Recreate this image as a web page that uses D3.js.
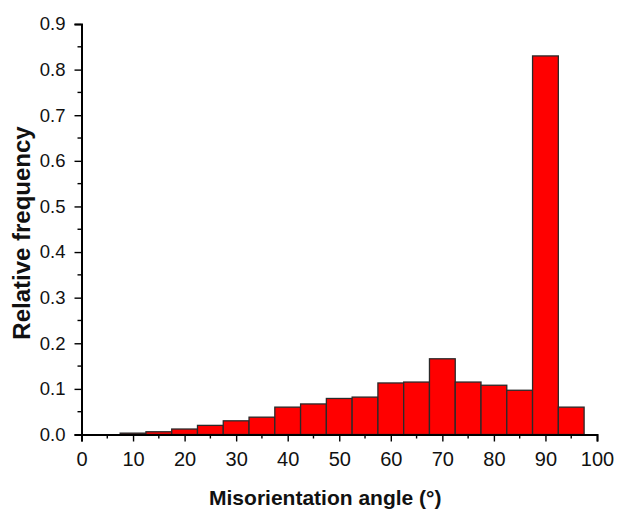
<!DOCTYPE html>
<html><head><meta charset="utf-8">
<script src="https://cdn.jsdelivr.net/npm/d3@7"></script>
<style>body{margin:0;background:#fff;} svg{display:block;}</style>
</head><body>
<svg id="c" width="618" height="515"></svg>
<script>
const binCenters = [10,15,20,25,30,35,40,45,50,55,60,65,70,75,80,85,90,95];
const frequencies = [0.003,0.006,0.012,0.020,0.030,0.038,0.060,0.067,0.079,0.082,0.113,0.115,0.166,0.115,0.108,0.097,0.830,0.060];
const xTicks = [0,10,20,30,40,50,60,70,80,90,100];
const yTicks = [0,0.1,0.2,0.3,0.4,0.5,0.6,0.7,0.8,0.9];
const binWidth = 5;

const svg = d3.select("#c");
const x = d3.scaleLinear().domain([0,100]).range([81.5,597]);
const y = d3.scaleLinear().domain([0,0.9]).range([434.5,24]);
const font = "'Liberation Sans', Arial, sans-serif";

svg.append("g").selectAll("rect").data(binCenters).join("rect")
  .attr("x", (d)=>x(d-binWidth/2))
  .attr("width", (d)=>x(d+binWidth/2)-x(d-binWidth/2))
  .attr("y", (d,i)=>y(frequencies[i]))
  .attr("height", (d,i)=>y(0)-y(frequencies[i]))
  .attr("fill","#ff0000").attr("stroke","#2a2a2a").attr("stroke-width",1.3);

const xMinor = d3.range(5,100,10);
const yMinor = d3.range(0.05,0.9,0.1);
const gx = svg.append("g").attr("transform",`translate(0,${y(0)})`);
gx.call(d3.axisBottom(x).tickValues(xTicks).tickFormat(d3.format("d")).tickSizeOuter(0).tickSize(7).tickPadding(10));
gx.selectAll("line.minor").data(xMinor).join("line").attr("class","minor").attr("x1",d=>x(d)).attr("x2",d=>x(d)).attr("y1",0).attr("y2",4).attr("stroke","#000").attr("stroke-width",1.4);
const gy = svg.append("g").attr("transform",`translate(${x(0)},0)`);
gy.call(d3.axisLeft(y).tickValues(yTicks).tickFormat(d3.format(".1f")).tickSizeOuter(0).tickSize(7).tickPadding(9));
gy.selectAll("line.minor").data(yMinor).join("line").attr("class","minor").attr("y1",d=>y(d)).attr("y2",d=>y(d)).attr("x1",0).attr("x2",-4).attr("stroke","#000").attr("stroke-width",1.4);
[gx,gy].forEach(g=>{
  g.select(".domain").attr("stroke","#000").attr("stroke-width",2);
  g.selectAll(".tick line").attr("stroke","#000").attr("stroke-width",1.4);
  g.selectAll(".tick text").attr("fill","#111").style("font-family",font);
});
gx.selectAll(".tick text").style("font-size","20px");
gy.selectAll(".tick text").style("font-size","18.5px");

svg.append("text").attr("x",(x(0)+x(100))/2 - 14).attr("y",505).attr("text-anchor","middle")
  .style("font-family",font).style("font-size","21px").style("font-weight","bold").attr("fill","#111")
  .text("Misorientation angle (°)");
svg.append("text").attr("transform",`translate(30,233) rotate(-90)`).attr("text-anchor","middle")
  .style("font-family",font).style("font-size","24px").style("font-weight","bold").attr("fill","#111")
  .text("Relative frequency");
</script>
</body></html>
